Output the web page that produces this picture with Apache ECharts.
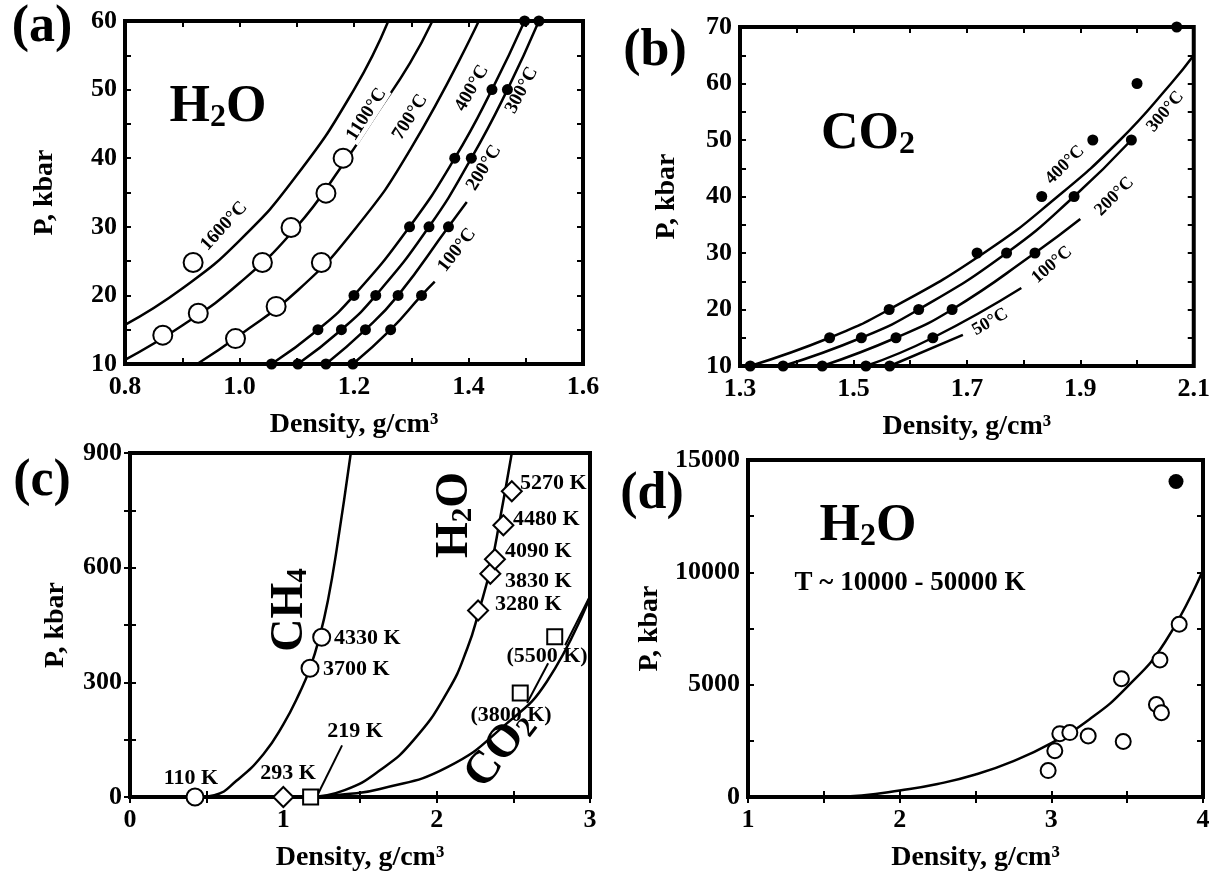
<!DOCTYPE html>
<html>
<head>
<meta charset="utf-8">
<script src="https://cdn.jsdelivr.net/npm/echarts@6.0.0/dist/echarts.min.js"></script>
<style>
html,body{margin:0;padding:0;background:#fff;}
#container{width:1213px;height:873px;}
</style>
</head>
<body>
<div id="container"></div>
<script>
var F = 'Liberation Serif';

// ---- (a) H2O isotherms, P (kbar) vs density ----
var aLine1600 = [[0.80,15.7],[0.90,21.0],[1.00,28.0],[1.10,37.5],[1.20,50.0],[1.26,60.0]];
var aLine1100 = [[0.80,10.6],[0.90,15.6],[1.00,21.8],[1.10,30.0],[1.18,39.0],[1.24,46.5],[1.298,53.9],[1.337,60]];
var aLine700  = [[0.926,10],[1.00,14.2],[1.10,20.6],[1.20,29.5],[1.30,41.5],[1.418,60]];
var aDots400 = [[1.056,10],[1.137,15],[1.200,20],[1.297,30],[1.376,40],[1.441,50],[1.498,60]];
var aDots300 = [[1.102,10],[1.178,15],[1.238,20],[1.331,30],[1.405,40],[1.468,50],[1.523,60]];
var aDots200 = [[1.151,10],[1.220,15],[1.277,20],[1.365,30]];
var aDots100 = [[1.198,10],[1.264,15],[1.318,20]];
var aEnd200 = [1.397,33.6];
var aEnd100 = [1.341,22];
var aOpen = [[0.866,14.2],[0.928,17.4],[0.919,24.8],[0.993,13.7],[1.040,24.8],[1.064,18.4],
             [1.090,29.9],[1.143,24.8],[1.151,34.9],[1.181,40.0]];
var aLabels = [[0.973,30.1,'1600°C',47],[1.222,46.4,'1100°C',57,'center',true],[1.298,46.0,'700°C',58],
               [1.406,50.2,'400°C',60],[1.493,49.9,'300°C',62],[1.427,38.6,'200°C',58],[1.380,26.6,'100°C',52]];

// ---- (b) CO2 isotherms ----
var bLine400 = [[1.318,10],[1.458,15],[1.563,20],[1.73,30],[1.86,40],[1.97,50],[2.06,60],[2.10,65]];
var bLine300 = [[1.376,10],[1.514,15],[1.615,20],[1.770,30],[1.889,40],[1.99,50]];
var bLine200 = [[1.445,10],[1.575,15],[1.674,20],[1.820,30],[1.90,36]];
var bLine100 = [[1.522,10],[1.640,15],[1.796,23.8]];
var bLine50  = [[1.564,10],[1.693,15.5]];
var bDots = [[1.318,10],[1.376,10],[1.445,10],[1.522,10],[1.564,10],
             [1.458,15],[1.514,15],[1.575,15],[1.640,15],
             [1.563,20],[1.615,20],[1.674,20],
             [1.718,30],[1.770,30],[1.820,30],
             [1.832,40],[1.889,40],
             [1.922,50],[1.99,50],[2.00,60],[2.07,70]];
var bLabels = [[1.741,17.8,'50°C',30],[1.850,27.9,'100°C',41],[1.96,40,'200°C',45],
               [1.873,45.6,'400°C',45],[2.05,55,'300°C',50]];

// ---- (c) CH4, H2O, CO2 at high T ----
var cLineCH4 = [[0.44,0],[0.55,5],[0.696,43],[0.87,112],[1.0,190],[1.109,275],[1.174,337],[1.239,423],[1.293,519],[1.348,648],[1.44,900]];
var cLineH2O = [[1.18,0],[1.4,18],[1.63,70],[1.848,148],[2.07,275],[2.2,389],[2.28,493],[2.35,597],[2.41,720],[2.49,900]];
var cLineCO2 = [[1.18,0],[1.4,7],[1.63,21],[2.07,78],[2.45,190],[2.72,303],[3.0,524]];
var cCircles  = [[0.424,0],[1.174,337],[1.25,418]];
var cDiamonds = [[1.0,0],[2.27,488],[2.35,584],[2.38,622],[2.435,711],[2.49,800]];
var cSquares  = [[1.178,0],[2.545,272],[2.77,419]];
var cLeaders = [[[1.226,8],[1.383,135]],[[2.838,397],[3.0,526]],[[2.59,246],[2.727,350]]];
var cLabels = [[1.331,415,'4330 K',0,'left'],[1.259,335,'3700 K',0,'left'],[1.468,171,'219 K'],
               [1.031,62,'293 K'],[0.398,49,'110 K'],
               [2.544,820,'5270 K',0,'left'],[2.498,726,'4480 K',0,'left'],[2.446,643,'4090 K',0,'left'],
               [2.446,565,'3830 K',0,'left'],[2.381,503,'3280 K',0,'left'],
               [2.72,368,'(5500 K)'],[2.485,215,'(3800 K)']];

// ---- (d) H2O at 10000-50000 K ----
var dLine = [[1.5,0],[1.75,70],[2.0,290],[2.25,580],[2.5,1000],[2.75,1600],[3.0,2400],[3.25,3450],[3.5,4900],[3.75,6900],[4.0,10100]];
var dOpen = [[2.979,1176],[3.023,2058],[3.056,2820],[3.122,2867],[3.243,2720],[3.474,2470],
             [3.462,5264],[3.693,4118],[3.726,3750],[3.716,6100],[3.843,7690]];
var dFilled = [[3.822,14040]];

var grids = [
  {left:125, top:21, width:458, height:343},
  {left:740, top:27, width:454, height:339},
  {left:130, top:453, width:460, height:347},
  {left:748, top:460, width:455, height:340}
];

function tenth(odd){
  return function(v){ var t = Math.round(v*10); return (t%2===(odd?1:0)) ? (t/10).toFixed(1) : ''; };
}
function every(n){ return function(v){ return Math.abs(v % n) < 1e-9 ? String(v) : ''; }; }

var axes = [
  {x:[0.8,1.6,0.1,tenth(false)], y:[10,60,5,every(10)], gap:66},
  {x:[1.3,2.1,0.1,tenth(true)],  y:[10,70,5,every(10)], gap:59},
  {x:[0,3,0.5,every(1)],         y:[0,900,150,every(300)], gap:60},
  {x:[1,4,0.5,every(1)],         y:[0,15000,2500,every(5000)], gap:84}
];

var tickStyle = {show:true, inside:true, length:6, lineStyle:{color:'#000', width:2}};
var labStyle = {fontFamily:F, fontWeight:'bold', fontSize:26, color:'#000'};
var nameStyle = {fontFamily:F, fontWeight:'bold', fontSize:28, color:'#000'};

var xAxes = [], yAxes = [];
axes.forEach(function(a, g){
  xAxes.push({type:'value', gridIndex:g, position:'bottom', min:a.x[0], max:a.x[1], interval:a.x[2],
    axisLine:{show:false}, splitLine:{show:false}, axisTick:tickStyle,
    axisLabel:Object.assign({formatter:a.x[3], margin:10}, labStyle),
    name:'Density, g/cm³', nameLocation:'middle', nameGap:47, nameTextStyle:nameStyle});
  xAxes.push({type:'value', gridIndex:g, position:'top', min:a.x[0], max:a.x[1], interval:a.x[2],
    axisLine:{show:false}, splitLine:{show:false}, axisTick:tickStyle, axisLabel:{show:false}});
  yAxes.push({type:'value', gridIndex:g, position:'left', min:a.y[0], max:a.y[1], interval:a.y[2],
    axisLine:{show:false}, splitLine:{show:false}, axisTick:tickStyle,
    axisLabel:Object.assign({formatter:a.y[3], margin:8}, labStyle),
    name:'P, kbar', nameLocation:'middle', nameGap:a.gap, nameTextStyle:nameStyle});
  yAxes.push({type:'value', gridIndex:g, position:'right', min:a.y[0], max:a.y[1], interval:a.y[2],
    axisLine:{show:false}, splitLine:{show:false}, axisTick:tickStyle, axisLabel:{show:false}});
});

function lineS(g, data){
  return {type:'line', xAxisIndex:2*g, yAxisIndex:2*g, data:data, smooth:0.5,
    symbol:'none', silent:true, lineStyle:{color:'#000', width:2.5}, z:2};
}
function straightS(g, data){
  return {type:'line', xAxisIndex:2*g, yAxisIndex:2*g, data:data, symbol:'none', silent:true,
    lineStyle:{color:'#000', width:2}, z:2};
}
function dotS(g, data, sym, size, filled){
  return {type:'scatter', xAxisIndex:2*g, yAxisIndex:2*g, data:data, symbol:sym, symbolSize:size, clip:false,
    itemStyle:{color:filled?'#000':'#fff', borderColor:'#000', borderWidth:filled?0:2, opacity:1}, z:4};
}

var series = [
  lineS(0,aLine1600), lineS(0,aLine1100), lineS(0,aLine700),
  lineS(0,aDots400), lineS(0,aDots300), lineS(0,aDots200.concat([aEnd200])), lineS(0,aDots100.concat([aEnd100])),
  dotS(0,aOpen,'circle',19,false),
  dotS(0,aDots400.concat(aDots300,aDots200,aDots100),'circle',11,true),

  lineS(1,bLine400), lineS(1,bLine300), lineS(1,bLine200), lineS(1,bLine100), lineS(1,bLine50),
  dotS(1,bDots,'circle',11,true),

  lineS(2,cLineCH4), lineS(2,cLineH2O), lineS(2,cLineCO2),
  straightS(2,cLeaders[0]), straightS(2,cLeaders[1]), straightS(2,cLeaders[2]),
  dotS(2,cCircles,'circle',17,false),
  dotS(2,cDiamonds,'diamond',20,false),
  dotS(2,cSquares,'rect',15,false),

  lineS(3,dLine),
  dotS(3,dOpen,'circle',15,false),
  dotS(3,dFilled,'circle',15,true)
];

function txt(x, y, s, size, rot, align, bg){
  var st = {text:s, fontFamily:F, fontWeight:'bold', fontSize:size, fill:'#000',
            align:align||'center', verticalAlign:'middle'};
  if (bg) { st.backgroundColor = '#fff'; st.padding = [0,2]; }
  return {type:'text', x:x, y:y, rotation:(rot||0)*Math.PI/180, z:10, style:st};
}
function formula(x, y, a, sub, b, size, rot){
  return {type:'text', x:x, y:y, rotation:(rot||0)*Math.PI/180, z:10,
    style:{text:'{m|'+a+'}{s|'+sub+'}'+(b?'{m|'+b+'}':''), align:'center', verticalAlign:'middle',
      rich:{
        m:{fontFamily:F, fontWeight:'bold', fontSize:size, fill:'#000'},
        s:{fontFamily:F, fontWeight:'bold', fontSize:Math.round(size*0.62), fill:'#000', verticalAlign:'bottom', lineHeight:Math.round(size*0.42)}
      }}};
}

var graphic = [
  txt(42,28,'(a)',52), txt(655,52,'(b)',52), txt(42,482,'(c)',52), txt(652,495,'(d)',52),
  formula(218,108,'H','2','O',52), formula(868,135,'CO','2','',52), formula(868,527,'H','2','O',52),
  txt(910,583,'T ~ 10000 - 50000 K',27),
  formula(290,610,'CH','4','',46,90), formula(455,515,'H','2','O',46,90), formula(500,750,'CO','2','',46,52)
];

var myChart = echarts.init(document.getElementById('container'));
var option = {
  backgroundColor:'#fff',
  animation:false,
  grid: grids.map(function(g){ return Object.assign({show:true, borderColor:'#000', borderWidth:4, backgroundColor:'transparent'}, g); }),
  xAxis: xAxes,
  yAxis: yAxes,
  series: series,
  graphic: graphic
};
myChart.setOption(option);

// curve/point annotations placed through each panel's own axes
function annotate(g, items, size){
  items.forEach(function(it){
    var p = myChart.convertToPixel({gridIndex:g}, [it[0], it[1]]);
    graphic.push(txt(p[0], p[1], it[2], size, it[3], it[4], it[5]));
  });
}
annotate(0, aLabels, 19);
annotate(1, bLabels, 18);
annotate(2, cLabels, 22);
myChart.setOption({graphic: graphic});
</script>
</body>
</html>
